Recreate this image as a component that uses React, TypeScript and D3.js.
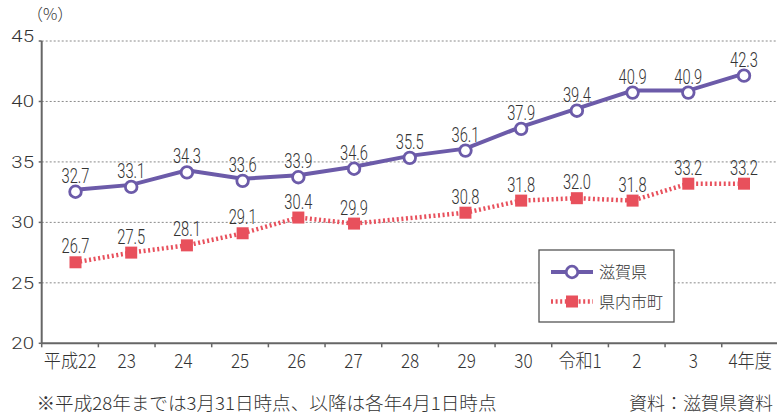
import React from "react";
import * as d3 from "d3";

const categories = ["平成22", "23", "24", "25", "26", "27", "28", "29", "30", "令和1", "2", "3", "4年度"];
const shigaValues: number[] = [32.7, 33.1, 34.3, 33.6, 33.9, 34.6, 35.5, 36.1, 37.9, 39.4, 40.9, 40.9, 42.3];
const municipalValues: (number | null)[] = [26.7, 27.5, 28.1, 29.1, 30.4, 29.9, null, 30.8, 31.8, 32.0, 31.8, 33.2, 33.2];
const yTicks = [20, 25, 30, 35, 40, 45];
const seriesNames = ["滋賀県", "県内市町"];
const unitLabel = "（%）";
const footnote = "※平成28年までは3月31日時点、以降は各年4月1日時点";
const sourceNote = "資料：滋賀県資料";

const W = 777;
const H = 414;
const PURPLE = "#6c5ba9";
const RED = "#e8505c";
const NUM_FONT = "Roboto, 'Liberation Sans', Arial, sans-serif";
const JP_FONT = "'Noto Sans CJK JP', 'Noto Sans', sans-serif";
const TEXT = "#333";

export default function App() {
  const y = d3.scaleLinear().domain([20, 45]).range([343.3, 41]);
  const xBand = d3.scaleBand<string>().domain(categories).range([41.7, 41.7 + 13 * 56.67]);
  const xPt = d3.scalePoint<string>().domain(categories).range([75.5, 744]);

  const shigaPts = shigaValues.map((v, i) => ({ c: categories[i], v }));
  const muniPts = municipalValues
    .map((v, i) => ({ c: categories[i], v }))
    .filter((d) => d.v !== null) as { c: string; v: number }[];

  const line = d3
    .line<{ c: string; v: number }>()
    .x((d) => xPt(d.c)!)
    .y((d) => y(d.v));

  const axisX = 41.7;
  const axisColor = "#666";

  return (
    <svg width={W} height={H} style={{ position: "absolute", left: 0, top: 0, background: "#fff" }}>
      {/* gridlines */}
      {yTicks.filter((t) => t !== 20).map((t) => (
        <line key={"g" + t} x1={axisX} x2={W} y1={y(t)} y2={y(t)} stroke="#8a8a8a" strokeWidth={1} strokeDasharray="2,2" />
      ))}
      {/* y ticks & labels */}
      {yTicks.map((t) => (
        <g key={"yt" + t}>
          <line x1={axisX - 3} x2={axisX} y1={y(t)} y2={y(t)} stroke={axisColor} strokeWidth={1.5} />
          <text
            transform={`translate(34, ${y(t) + (t === 45 ? 1 : 6)}) scale(1.2,1)`}
            textAnchor="end"
            fontFamily={NUM_FONT}
            fontSize={17}
            fontWeight={300}
            fill={TEXT}
          >
            {t}
          </text>
        </g>
      ))}
      <text x={27} y={20} fontFamily={JP_FONT} fontSize={16} fontWeight={300} fill={TEXT}>{unitLabel}</text>
      {/* axes */}
      <line x1={axisX} x2={axisX} y1={y(45)} y2={y(20)} stroke={axisColor} strokeWidth={2} />
      <line x1={axisX} x2={W} y1={y(20)} y2={y(20)} stroke={axisColor} strokeWidth={2} />
      {categories.map((c, i) => (
        <line key={"xt" + i} x1={xBand(c)!} x2={xBand(c)!} y1={y(20)} y2={y(20) + 4} stroke={axisColor} strokeWidth={1.5} />
      ))}
      {categories.map((c, i) => (
        <text
          key={"xl" + i}
          transform={`translate(${xBand(c)! + xBand.bandwidth() / 2}, 368) scale(0.9,1)`}
          textAnchor="middle"
          fontFamily={JP_FONT}
          fontSize={19}
          fontWeight={300}
          fill={TEXT}
        >
          {c}
        </text>
      ))}

      {/* municipal series */}
      <path d={line(muniPts) || ""} fill="none" stroke={RED} strokeWidth={4.5} strokeDasharray="2,2.6" />
      {muniPts.map((d, i) => (
        <rect key={"mr" + i} x={xPt(d.c)! - 6} y={y(d.v) - 6} width={12} height={12} fill={RED} />
      ))}
      {muniPts.map((d, i) => (
        <text
          key={"ml" + i}
          transform={`translate(${xPt(d.c)!}, ${y(d.v) - 9}) scale(0.7,1)`}
          textAnchor="middle"
          fontFamily={NUM_FONT}
          fontSize={21}
          fontWeight={300}
          fill={TEXT}
        >
          {d.v.toFixed(1)}
        </text>
      ))}

      {/* shiga series */}
      <path d={line(shigaPts) || ""} fill="none" stroke={PURPLE} strokeWidth={4} />
      {shigaPts.map((d, i) => (
        <circle key={"sc" + i} cx={xPt(d.c)!} cy={y(d.v) + 2} r={5.8} fill="#fff" stroke={PURPLE} strokeWidth={2.8} />
      ))}
      {shigaPts.map((d, i) => (
        <text
          key={"sl" + i}
          transform={`translate(${xPt(d.c)!}, ${y(d.v) - 7}) scale(0.7,1)`}
          textAnchor="middle"
          fontFamily={NUM_FONT}
          fontSize={21}
          fontWeight={300}
          fill={TEXT}
        >
          {d.v.toFixed(1)}
        </text>
      ))}

      {/* legend */}
      <rect x={539} y={250} width={135} height={72} fill="#fff" stroke="#555" strokeWidth={1.3} />
      <line x1={551} x2={593} y1={272} y2={272} stroke={PURPLE} strokeWidth={4} />
      <circle cx={572} cy={272} r={5.8} fill="#fff" stroke={PURPLE} strokeWidth={2.8} />
      <text x={599} y={278} fontFamily={JP_FONT} fontSize={16} fontWeight={300} fill={TEXT}>{seriesNames[0]}</text>
      <line x1={551} x2={593} y1={301.5} y2={301.5} stroke={RED} strokeWidth={4.5} strokeDasharray="2,2.6" />
      <rect x={566} y={295.5} width={12} height={12} fill={RED} />
      <text x={599} y={307.5} fontFamily={JP_FONT} fontSize={16} fontWeight={300} fill={TEXT}>{seriesNames[1]}</text>

      {/* notes */}
      <text x={36.5} y={410} fontFamily={JP_FONT} fontSize={18} fontWeight={300} fill={TEXT} textLength={460} lengthAdjust="spacingAndGlyphs">{footnote}</text>
      <text x={773} y={410} textAnchor="end" fontFamily={JP_FONT} fontSize={18} fontWeight={300} fill={TEXT}>{sourceNote}</text>
    </svg>
  );
}
